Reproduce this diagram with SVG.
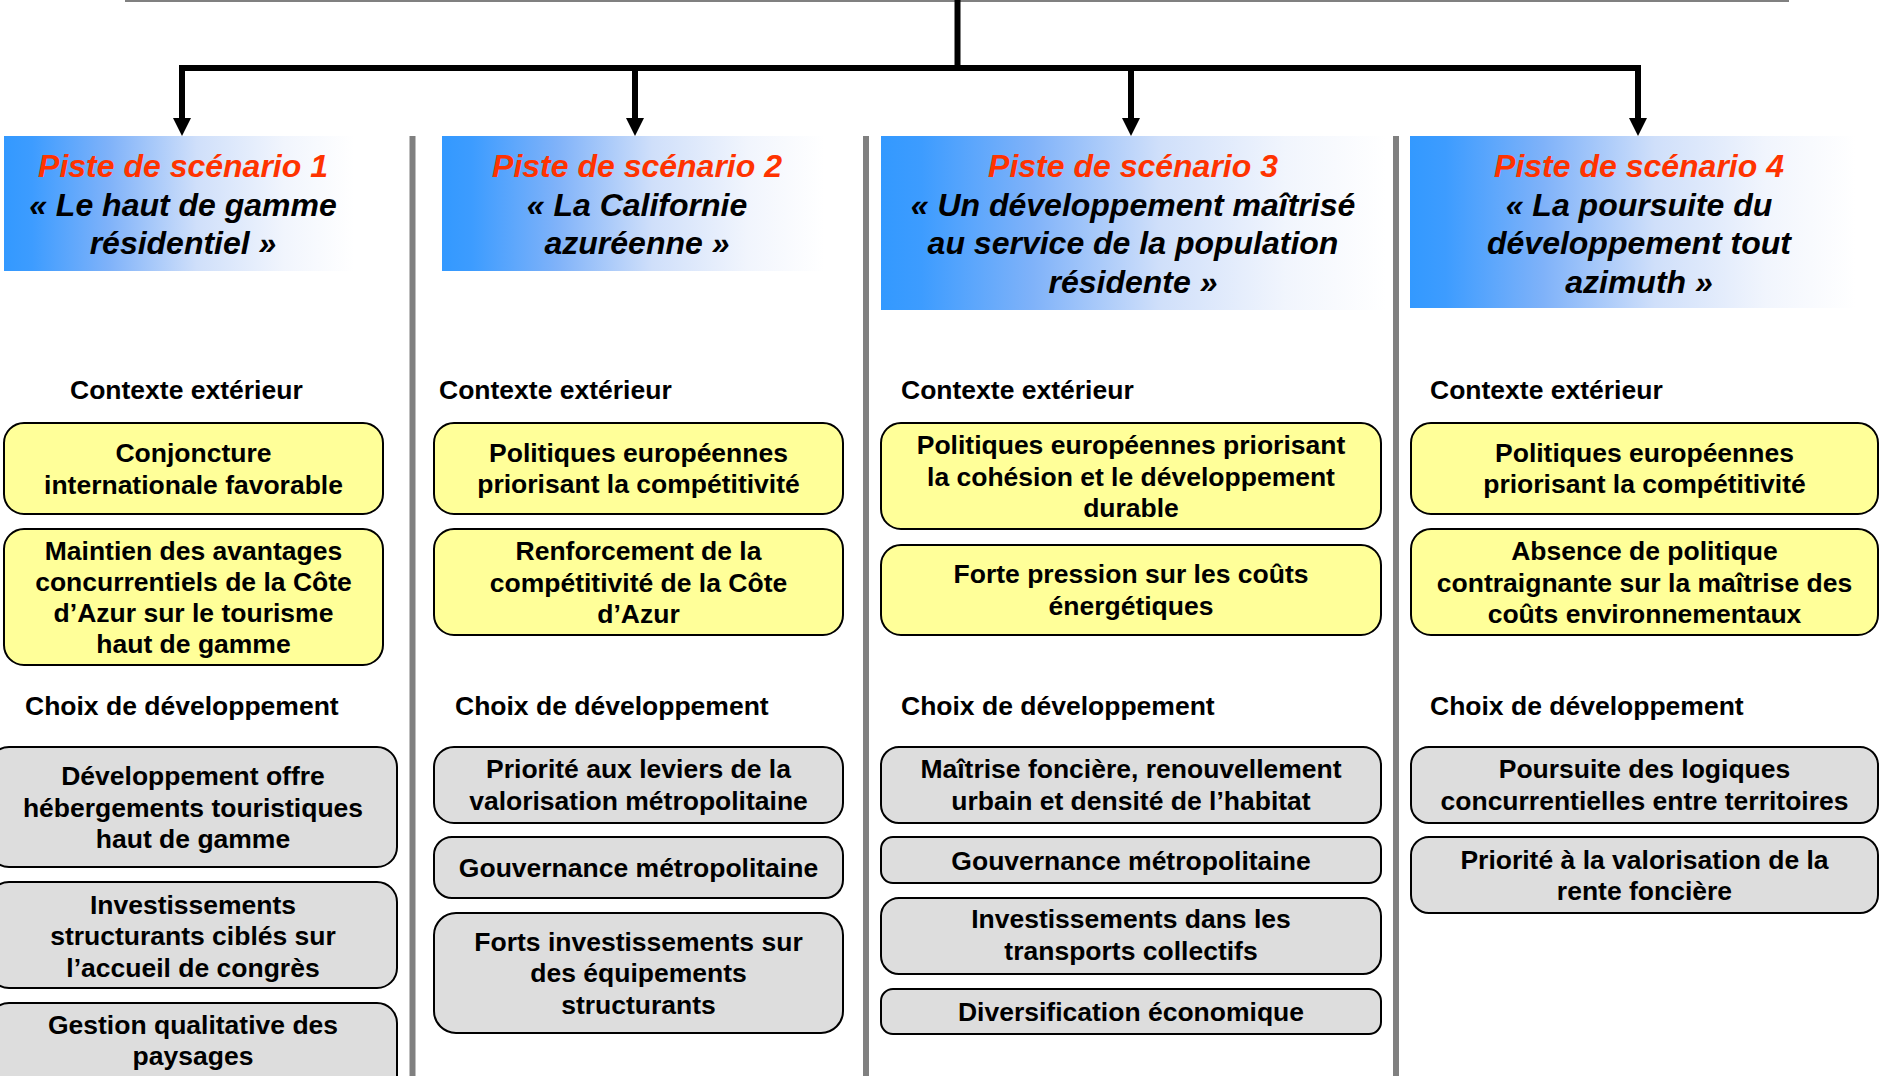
<svg xmlns="http://www.w3.org/2000/svg" width="1879" height="1076" viewBox="0 0 1879 1076">
  <defs>
    <linearGradient id="hdr" x1="0" y1="0" x2="1" y2="0">
      <stop offset="0" stop-color="#3399FF"/>
      <stop offset="0.08" stop-color="#3D9CFF"/>
      <stop offset="0.3" stop-color="#7FB2F9"/>
      <stop offset="0.55" stop-color="#CFDFFA"/>
      <stop offset="0.8" stop-color="#F1F5FD"/>
      <stop offset="1" stop-color="#FFFFFF"/>
    </linearGradient>
    <style>
      .hb { fill: url(#hdr); }
      .ht { font-family: "Liberation Sans", Arial, sans-serif; font-weight: bold; font-style: italic; font-size: 32px; text-anchor: middle; fill: #000; }
      .red { fill: #FF3300; }
      .lbl { font-family: "Liberation Sans", Arial, sans-serif; font-weight: bold; font-size: 26.5px; fill: #000; }
      .bt { font-family: "Liberation Sans", Arial, sans-serif; font-weight: bold; font-size: 26.5px; text-anchor: middle; fill: #000; }
      .yb { fill: #FFFF99; stroke: #000; stroke-width: 2; }
      .gb { fill: #DDDDDD; stroke: #000; stroke-width: 2; }
      .sep { stroke: #808080; stroke-width: 6; fill: none; }
      .wire { stroke: #000; stroke-width: 6; fill: none; }
      .head { fill: #000; }
    </style>
  </defs>
  <rect width="1879" height="1076" fill="#FFFFFF"/>

  <!-- separators -->
  <g id="separators">
    <line class="sep" x1="412.5" y1="136" x2="412.5" y2="1076"/>
    <line class="sep" x1="866" y1="136" x2="866" y2="1076"/>
    <line class="sep" x1="1396" y1="136" x2="1396" y2="1076"/>
  </g>

  <!-- connectors -->
  <g id="connectors">
    <line x1="125" y1="1" x2="1789" y2="1" stroke="#808080" stroke-width="2"/>
    <line class="wire" x1="957.5" y1="0" x2="957.5" y2="71"/>
    <polyline class="wire" points="182,119 182,68 1638,68 1638,119"/>
    <line class="wire" x1="635" y1="68" x2="635" y2="119"/>
    <line class="wire" x1="1131" y1="68" x2="1131" y2="119"/>
    <polygon class="head" points="173,118 191,118 182,136"/>
    <polygon class="head" points="626,118 644,118 635,136"/>
    <polygon class="head" points="1122,118 1140,118 1131,136"/>
    <polygon class="head" points="1629,118 1647,118 1638,136"/>
  </g>

  <!-- headers -->
  <g id="scenario1">
    <rect class="hb" x="4" y="136" width="350" height="135"/>
    <text class="ht"><tspan class="red" x="183" y="177">Piste de scénario 1</tspan><tspan x="183" y="215.5">« Le haut de gamme</tspan><tspan x="183" y="254">résidentiel »</tspan></text>
  </g>
  <g id="scenario2">
    <rect class="hb" x="442" y="136" width="382" height="135"/>
    <text class="ht"><tspan class="red" x="637" y="177">Piste de scénario 2</tspan><tspan x="637" y="215.5">« La Californie</tspan><tspan x="637" y="254">azuréenne »</tspan></text>
  </g>
  <g id="scenario3">
    <rect class="hb" x="881" y="136" width="505" height="174"/>
    <text class="ht"><tspan class="red" x="1133" y="177">Piste de scénario 3</tspan><tspan x="1133" y="215.5">« Un développement maîtrisé</tspan><tspan x="1133" y="254">au service de la population</tspan><tspan x="1133" y="292.5">résidente »</tspan></text>
  </g>
  <g id="scenario4">
    <rect class="hb" x="1410" y="136" width="445" height="172"/>
    <text class="ht"><tspan class="red" x="1639" y="177">Piste de scénario 4</tspan><tspan x="1639" y="215.5">« La poursuite du</tspan><tspan x="1639" y="254">développement tout</tspan><tspan x="1639" y="292.5">azimuth »</tspan></text>
  </g>

  <!-- section labels -->
  <g id="labels">
    <text class="lbl" x="70" y="399">Contexte extérieur</text>
    <text class="lbl" x="439" y="399">Contexte extérieur</text>
    <text class="lbl" x="901" y="399">Contexte extérieur</text>
    <text class="lbl" x="1430" y="399">Contexte extérieur</text>
    <text class="lbl" x="25" y="715">Choix de développement</text>
    <text class="lbl" x="455" y="715">Choix de développement</text>
    <text class="lbl" x="901" y="715">Choix de développement</text>
    <text class="lbl" x="1430" y="715">Choix de développement</text>
  </g>

  <!-- column 1 -->
  <g id="c1-ctx1">
    <rect class="yb" x="4" y="423" width="379" height="91" rx="20"/>
    <text class="bt"><tspan x="193.5" y="462">Conjoncture</tspan><tspan x="193.5" y="493.5">internationale favorable</tspan></text>
  </g>
  <g id="c1-ctx2">
    <rect class="yb" x="4" y="529" width="379" height="136" rx="20"/>
    <text class="bt"><tspan x="193.5" y="560">Maintien des avantages</tspan><tspan x="193.5" y="591">concurrentiels de la Côte</tspan><tspan x="193.5" y="622">d’Azur sur le tourisme</tspan><tspan x="193.5" y="653">haut de gamme</tspan></text>
  </g>
  <g id="c1-dev1">
    <rect class="gb" x="-11" y="747" width="408" height="120" rx="20"/>
    <text class="bt"><tspan x="193" y="785">Développement offre</tspan><tspan x="193" y="817">hébergements touristiques</tspan><tspan x="193" y="848">haut de gamme</tspan></text>
  </g>
  <g id="c1-dev2">
    <rect class="gb" x="-11" y="882" width="408" height="106" rx="20"/>
    <text class="bt"><tspan x="193" y="913.5">Investissements</tspan><tspan x="193" y="945">structurants ciblés sur</tspan><tspan x="193" y="976.5">l’accueil de congrès</tspan></text>
  </g>
  <g id="c1-dev3">
    <rect class="gb" x="-11" y="1003" width="408" height="110" rx="20"/>
    <text class="bt"><tspan x="193" y="1034">Gestion qualitative des</tspan><tspan x="193" y="1065">paysages</tspan></text>
  </g>

  <!-- column 2 -->
  <g id="c2-ctx1">
    <rect class="yb" x="434" y="423" width="409" height="91" rx="20"/>
    <text class="bt"><tspan x="638.5" y="461.5">Politiques européennes</tspan><tspan x="638.5" y="493">priorisant la compétitivité</tspan></text>
  </g>
  <g id="c2-ctx2">
    <rect class="yb" x="434" y="529" width="409" height="106" rx="20"/>
    <text class="bt"><tspan x="638.5" y="560">Renforcement de la</tspan><tspan x="638.5" y="591.5">compétitivité de la Côte</tspan><tspan x="638.5" y="623">d’Azur</tspan></text>
  </g>
  <g id="c2-dev1">
    <rect class="gb" x="434" y="747" width="409" height="76" rx="20"/>
    <text class="bt"><tspan x="638.5" y="778">Priorité aux leviers de la</tspan><tspan x="638.5" y="810">valorisation métropolitaine</tspan></text>
  </g>
  <g id="c2-dev2">
    <rect class="gb" x="434" y="837" width="409" height="61" rx="18"/>
    <text class="bt" x="638.5" y="876.5">Gouvernance métropolitaine</text>
  </g>
  <g id="c2-dev3">
    <rect class="gb" x="434" y="913" width="409" height="120" rx="22"/>
    <text class="bt"><tspan x="638.5" y="950.5">Forts investissements sur</tspan><tspan x="638.5" y="982">des équipements</tspan><tspan x="638.5" y="1013.5">structurants</tspan></text>
  </g>

  <!-- column 3 -->
  <g id="c3-ctx1">
    <rect class="yb" x="881" y="423" width="500" height="106" rx="20"/>
    <text class="bt"><tspan x="1131" y="454">Politiques européennes priorisant</tspan><tspan x="1131" y="485.5">la cohésion et le développement</tspan><tspan x="1131" y="516.5">durable</tspan></text>
  </g>
  <g id="c3-ctx2">
    <rect class="yb" x="881" y="545" width="500" height="90" rx="20"/>
    <text class="bt"><tspan x="1131" y="583">Forte pression sur les coûts</tspan><tspan x="1131" y="614.5">énergétiques</tspan></text>
  </g>
  <g id="c3-dev1">
    <rect class="gb" x="881" y="747" width="500" height="76" rx="18"/>
    <text class="bt"><tspan x="1131" y="778">Maîtrise foncière, renouvellement</tspan><tspan x="1131" y="809.5">urbain et densité de l’habitat</tspan></text>
  </g>
  <g id="c3-dev2">
    <rect class="gb" x="881" y="837" width="500" height="46" rx="12"/>
    <text class="bt" x="1131" y="870">Gouvernance métropolitaine</text>
  </g>
  <g id="c3-dev3">
    <rect class="gb" x="881" y="898" width="500" height="76" rx="18"/>
    <text class="bt"><tspan x="1131" y="928">Investissements dans les</tspan><tspan x="1131" y="959.5">transports collectifs</tspan></text>
  </g>
  <g id="c3-dev4">
    <rect class="gb" x="881" y="989" width="500" height="45" rx="12"/>
    <text class="bt" x="1131" y="1021">Diversification économique</text>
  </g>

  <!-- column 4 -->
  <g id="c4-ctx1">
    <rect class="yb" x="1411" y="423" width="467" height="91" rx="20"/>
    <text class="bt"><tspan x="1644.5" y="461.5">Politiques européennes</tspan><tspan x="1644.5" y="493">priorisant la compétitivité</tspan></text>
  </g>
  <g id="c4-ctx2">
    <rect class="yb" x="1411" y="529" width="467" height="106" rx="20"/>
    <text class="bt"><tspan x="1644.5" y="560">Absence de politique</tspan><tspan x="1644.5" y="591.5">contraignante sur la maîtrise des</tspan><tspan x="1644.5" y="623">coûts environnementaux</tspan></text>
  </g>
  <g id="c4-dev1">
    <rect class="gb" x="1411" y="747" width="467" height="76" rx="18"/>
    <text class="bt"><tspan x="1644.5" y="778">Poursuite des logiques</tspan><tspan x="1644.5" y="810">concurrentielles entre territoires</tspan></text>
  </g>
  <g id="c4-dev2">
    <rect class="gb" x="1411" y="837" width="467" height="76" rx="18"/>
    <text class="bt"><tspan x="1644.5" y="868.5">Priorité à la valorisation de la</tspan><tspan x="1644.5" y="900">rente foncière</tspan></text>
  </g>
</svg>
